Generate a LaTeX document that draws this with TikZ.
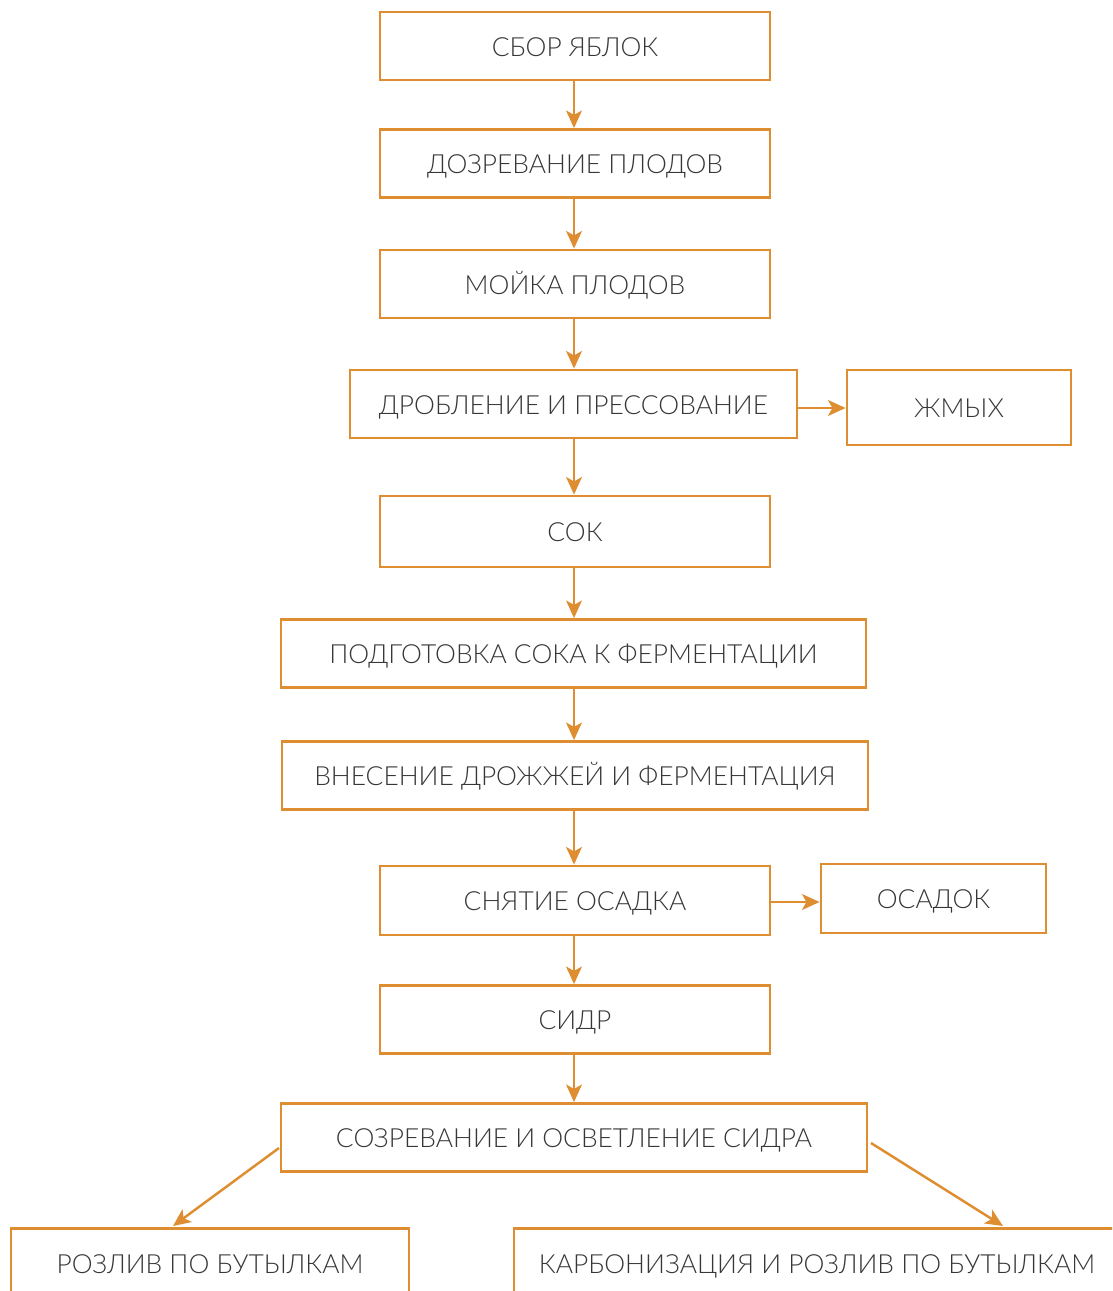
\documentclass[tikz,border=0pt]{standalone}
\usepackage{fontspec}
\setmainfont{Lato}[UprightFont=* Light]
\usetikzlibrary{arrows.meta}
\definecolor{boxorange}{RGB}{222,142,48}
\definecolor{txtgray}{RGB}{55,55,55}
\tikzset{
  stepbox/.style={draw=boxorange, line width=1.6pt, fill=white, inner sep=0pt,
    text=txtgray, font=\fontsize{15}{18}\selectfont, text height=1.15em, text depth=0pt,
    minimum height=1.36cm},
  flow/.style={draw=boxorange, line width=1.4pt, -{Stealth[length=10pt,width=9pt,inset=2.5pt]}}
}
\begin{document}
\begin{tikzpicture}[x=0.02cm,y=-0.02cm]
\useasboundingbox (0,0) rectangle (1112,1291);
\clip (0,0) rectangle (1112,1291);
\node[stepbox, minimum width=7.8cm] (b1) at (575,46) {СБОР ЯБЛОК};
\node[stepbox, minimum width=7.8cm] (b2) at (575,163.5) {ДОЗРЕВАНИЕ ПЛОДОВ};
\node[stepbox, minimum width=7.8cm] (b3) at (575,284) {МОЙКА ПЛОДОВ};
\node[stepbox, minimum width=8.94cm] (b4) at (573.5,404) {ДРОБЛЕНИЕ И ПРЕССОВАНИЕ};
\node[stepbox, minimum width=4.48cm, minimum height=1.5cm] (zh) at (959,407.5) {ЖМЫХ};
\node[stepbox, minimum width=7.8cm, minimum height=1.42cm] (b5) at (575,531.5) {СОК};
\node[stepbox, minimum width=11.7cm] (b6) at (573.5,653.5) {ПОДГОТОВКА СОКА К ФЕРМЕНТАЦИИ};
\node[stepbox, minimum width=11.72cm] (b7) at (575,775.5) {ВНЕСЕНИЕ ДРОЖЖЕЙ И ФЕРМЕНТАЦИЯ};
\node[stepbox, minimum width=7.8cm, minimum height=1.38cm] (b8) at (575,900.5) {СНЯТИЕ ОСАДКА};
\node[stepbox, minimum width=4.5cm, minimum height=1.38cm] (os) at (933.5,898.5) {ОСАДОК};
\node[stepbox, minimum width=7.8cm] (b9) at (575,1019.5) {СИДР};
\node[stepbox, minimum width=11.72cm] (b10) at (574,1137.5) {СОЗРЕВАНИЕ И ОСВЕТЛЕНИЕ СИДРА};
\node[stepbox, minimum width=7.96cm, minimum height=1.4cm, anchor=north] (b11) at (210,1227) {РОЗЛИВ ПО БУТЫЛКАМ};
\node[stepbox, minimum width=12.12cm, minimum height=1.4cm, anchor=north] (b12) at (817,1227) {КАРБОНИЗАЦИЯ И РОЗЛИВ ПО БУТЫЛКАМ};
\coordinate (l0) at (279,1148);
\coordinate (l1) at (173,1226);
\coordinate (r0) at (871,1143);
\coordinate (r1) at (1003,1226);
\draw[flow] (b1.south -| 574,0) -- (b2.north -| 574,0);
\draw[flow] (b2.south -| 574,0) -- (b3.north -| 574,0);
\draw[flow] (b3.south -| 574,0) -- (b4.north -| 574,0);
\draw[flow] (b4.south -| 574,0) -- (b5.north -| 574,0);
\draw[flow] (b5.south -| 574,0) -- (b6.north -| 574,0);
\draw[flow] (b6.south -| 574,0) -- (b7.north -| 574,0);
\draw[flow] (b7.south -| 574,0) -- (b8.north -| 574,0);
\draw[flow] (b8.south -| 574,0) -- (b9.north -| 574,0);
\draw[flow] (b9.south -| 574,0) -- (b10.north -| 574,0);
\draw[flow] (b4.east |- 0,408) -- (zh.west |- 0,408);
\draw[flow] (b8.east |- 0,902) -- (os.west |- 0,902);
\draw[flow] (l0) -- (l1);
\draw[flow] (r0) -- (r1);
\end{tikzpicture}
\end{document}
